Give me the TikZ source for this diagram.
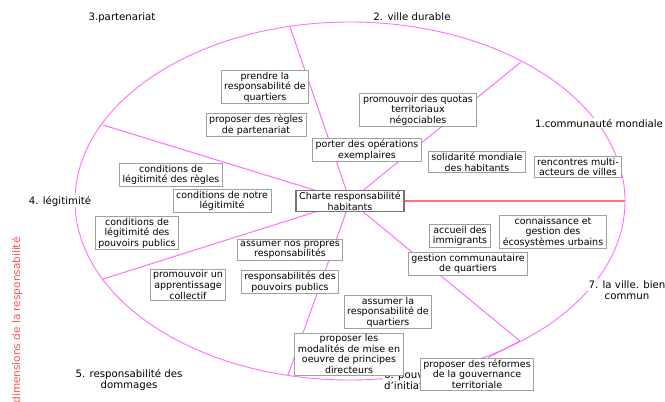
\documentclass[tikz,border=0pt]{standalone}
\usepackage{fontspec}
\setmainfont{DejaVu Sans}
\usetikzlibrary{backgrounds}
\definecolor{rose}{RGB}{255,110,255}
\definecolor{rouge}{RGB}{255,80,80}
\definecolor{trait}{RGB}{255,115,115}
\definecolor{bord}{RGB}{160,160,160}

\begin{document}
\begin{tikzpicture}[x=1pt,y=-1pt,
  boite/.style={draw=bord,fill=white,line width=0.8pt,align=center,
    inner xsep=3pt,inner ysep=1.5pt,font=\fontsize{9.5}{10.6}\selectfont},
  dimension/.style={fill=white,inner sep=1pt,align=center,
    font=\fontsize{10.2}{11.5}\selectfont},
  lien/.style={draw=rose,line width=1pt}]
\useasboundingbox (0,0) rectangle (665,402);

% les dimensions
\node[dimension] (dim3) at (122,18) {3.partenariat};
\node[dimension] (dim2) at (412,17) {2. ville durable};
\node[dimension] (dim1) at (599,123) {1.communauté mondiale};
\node[dimension] (dim4) at (60,201) {4. légitimité};
\node[dimension] (dim5) at (129,380) {5. responsabilité des\\dommages};
\node[dimension,align=left,anchor=west] (dim6) at (383,380) {6. pouvoir\\d'initiative};
\node[dimension] (dim7) at (627,290) {7. la ville. bien\\commun};
\node[text=rouge,rotate=90,anchor=west,font=\fontsize{10.5}{12}\selectfont] (axe) at (17,407)
  {dimensions de la responsabilité};

% les actions
\node[boite] (prendre) at (265,87) {prendre la\\responsabilité de\\quartiers};
\node[boite] (regles) at (256,125) {proposer des règles\\de partenariat};
\node[boite] (porter) at (367,150) {porter des opérations\\exemplaires};
\node[boite,minimum width=117pt] (quotas) at (418,110) {promouvoir des quotas\\territoriaux\\négociables};
\node[boite] (solidarite) at (477,162) {solidarité mondiale\\des habitants};
\node[boite] (rencontres) at (578,167) {rencontres multi-\\acteurs de villes};
\node[boite] (condregles) at (171,175) {conditions de\\légitimité des règles};
\node[boite] (condnotre) at (222,201) {conditions de notre\\légitimité};
\node[boite] (condpouvoirs) at (137,233) {conditions de\\légitimité des\\pouvoirs publics};
\node[boite] (assumer) at (290,250) {assumer nos propres\\responsabilités};
\node[boite] (respublics) at (290,282) {responsabilités des\\pouvoirs publics};
\node[boite] (apprentissage) at (188,285) {promouvoir un\\apprentissage\\collectif};
\node[boite] (assumerquart) at (388,312) {assumer la\\responsabilité de\\quartiers};
\node[boite] (modalites) at (349,354) {proposer les\\modalités de mise en\\oeuvre de principes\\directeurs};
\node[boite] (accueil) at (460,236) {accueil des\\immigrants};
\node[boite] (connaissance) at (553,232) {connaissance et\\gestion des\\écosystèmes urbains};
\node[boite] (gestion) at (468,264) {gestion communautaire\\de quartiers};
\node[boite] (reformes) at (477,374) {proposer des réformes\\de la gouvernance\\territoriale};
\node[boite,draw=black!55,line width=1.4pt] (charte) at (350,201) {Charte responsabilité\\habitants};

% l'ellipse et les rayons
\begin{scope}[on background layer]
\draw[draw=rose,line width=0.9pt] (350,201) ellipse (275 and 179);
\coordinate (b23) at (290,27);
\coordinate (b12) at (521,62);
\coordinate (b17) at (625,201);
\coordinate (b76) at (520,341);
\coordinate (b65) at (288,375);
\coordinate (b54) at (103,279);
\coordinate (b43) at (103,125);
\draw[lien] (charte.center) -- (b23);
\draw[lien] (charte.center) -- (b12);
\draw[lien] (charte.center) -- (b76);
\draw[lien] (charte.center) -- (b65);
\draw[lien] (charte.center) -- (b54);
\draw[lien] (charte.center) -- (b43);
\draw[lien] (b76) -- ([xshift=11pt]reformes.north);
\draw[draw=trait,line width=1.2pt] (charte.center) -- (b17);
\end{scope}
\end{tikzpicture}
\end{document}
